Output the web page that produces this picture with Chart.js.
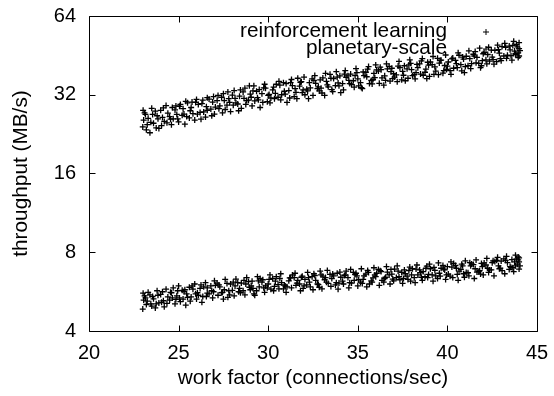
<!DOCTYPE html>
<html>
<head>
<meta charset="utf-8">
<script src="https://cdn.jsdelivr.net/npm/chart.js@4"></script>
<style>
  html, body { margin: 0; padding: 0; background: #fff; }
  canvas { display: block; }
</style>
</head>
<body>
<canvas id="chart" width="554" height="396"></canvas>
<script>
// series names (legend order)
const seriesNames = ['reinforcement learning', 'planetary-scale'];

// upper band: [work factor, throughput]
const rlPoints = [
  [23.0, 24.1], [23.1, 27.3], [23.2, 23.5], [23.3, 26.0], [23.5, 28.4], [23.6, 24.9], [23.8, 26.6], [23.9, 23.8],
  [24.0, 27.9], [24.2, 25.3], [24.3, 29.1], [24.5, 26.4], [24.6, 24.6], [24.8, 28.0], [24.9, 26.9],
  [25.0, 25.2], [25.1, 29.4], [25.3, 27.0], [25.4, 30.2], [25.6, 26.1], [25.7, 28.6], [25.9, 25.6],
  [26.0, 30.7], [26.2, 27.4], [26.3, 29.6], [26.5, 26.3], [26.6, 31.2], [26.8, 28.2], [26.9, 30.0],
  [27.0, 27.0], [27.2, 31.8], [27.3, 29.0], [27.5, 32.3], [27.6, 28.1], [27.8, 30.9], [27.9, 27.6],
  [28.1, 33.2], [28.2, 29.8], [28.4, 31.6], [28.5, 28.4], [28.7, 33.9], [28.8, 30.4], [29.0, 32.2],
  [29.1, 29.0], [29.2, 34.6], [29.4, 31.2], [29.5, 33.5], [29.7, 29.9], [29.8, 35.1], [30.0, 31.8],
  [30.1, 29.8], [30.3, 34.2], [30.4, 32.4], [30.6, 36.0], [30.7, 30.6], [30.9, 33.0], [31.0, 35.3],
  [31.2, 31.1], [31.3, 36.6], [31.5, 33.8], [31.6, 30.9], [31.8, 35.7], [31.9, 32.6], [32.0, 37.4],
  [32.2, 33.1], [32.3, 35.6], [32.5, 31.8], [32.6, 37.9], [32.8, 34.3], [32.9, 36.5], [33.0, 32.5],
  [33.2, 38.6], [33.3, 34.9], [33.5, 37.0], [33.6, 32.9], [33.8, 39.2], [33.9, 35.5], [34.0, 37.8],
  [34.2, 33.4], [34.3, 39.6], [34.5, 36.3], [34.6, 38.4], [34.8, 34.2], [34.9, 40.3], [35.0, 36.8],
  [35.2, 34.1], [35.3, 39.1], [35.5, 37.5], [35.6, 41.0], [35.8, 35.2], [35.9, 38.6], [36.0, 41.6],
  [36.2, 35.4], [36.3, 39.9], [36.5, 37.8], [36.6, 42.0], [36.8, 36.1], [36.9, 40.4], [37.0, 38.5],
  [37.2, 35.9], [37.3, 42.9], [37.5, 39.3], [37.6, 41.3], [37.8, 37.0], [37.9, 43.5], [38.0, 39.9],
  [38.2, 36.8], [38.3, 41.8], [38.5, 38.4], [38.6, 44.0], [38.8, 40.1], [38.9, 42.6], [39.0, 37.6],
  [39.2, 44.8], [39.3, 40.9], [39.5, 38.2], [39.6, 43.3], [39.8, 39.6], [39.9, 45.4], [40.0, 41.2],
  [40.2, 38.3], [40.3, 44.2], [40.5, 42.1], [40.6, 46.3], [40.8, 39.5], [40.9, 43.8], [41.0, 41.0],
  [41.2, 47.1], [41.3, 40.3], [41.5, 45.0], [41.6, 42.4], [41.8, 48.2], [41.9, 41.3], [42.0, 45.9],
  [42.2, 42.0], [42.3, 48.6], [42.5, 44.6], [42.6, 41.9], [42.8, 49.5], [42.9, 46.2], [43.0, 43.2],
  [43.2, 50.3], [43.3, 44.1], [43.5, 47.5], [43.6, 43.4], [43.7, 51.2], [43.8, 46.0], [43.9, 48.8], [44.0, 45.0], [44.0, 50.6],
  [23.05, 25.6], [23.4, 22.9], [23.7, 27.7], [24.05, 24.4], [24.4, 27.2], [24.7, 25.9], [25.05, 28.9], [25.35, 24.7],
  [25.65, 27.8], [25.95, 29.9], [26.25, 25.8], [26.55, 28.8], [26.85, 26.6], [27.15, 30.4], [27.45, 27.3], [27.75, 32.8],
  [28.05, 29.2], [28.35, 27.8], [28.65, 31.0], [28.95, 34.6], [29.25, 30.3], [29.55, 28.6], [29.85, 33.9], [30.15, 31.1],
  [30.45, 35.1], [30.75, 32.0], [31.05, 29.9], [31.35, 34.7], [31.65, 37.0], [31.95, 33.4], [32.25, 30.9], [32.55, 36.3],
  [32.85, 33.1], [33.15, 31.8], [33.45, 38.3], [33.75, 34.7], [34.05, 32.6], [34.35, 37.3], [34.65, 35.0], [34.95, 38.9],
  [35.25, 33.8], [35.55, 40.1], [35.85, 36.6], [36.15, 39.4], [36.45, 34.8], [36.75, 41.1], [37.05, 37.4], [37.35, 40.6],
  [37.65, 36.2], [37.95, 42.2], [38.25, 38.9], [38.55, 43.1], [38.85, 36.9], [39.15, 41.7], [39.45, 44.1], [39.75, 38.7],
  [40.05, 42.7], [40.35, 40.4], [40.65, 45.3], [40.95, 38.9], [41.25, 44.0], [41.55, 46.8], [41.85, 40.6], [42.15, 43.5],
  [42.45, 47.4], [42.75, 42.8], [43.05, 48.9], [43.35, 45.3], [43.65, 49.4], [43.95, 44.4], [44.05, 47.2],
  [23.15, 26.9], [23.45, 25.1], [23.85, 25.9], [24.15, 28.5], [24.55, 25.8], [24.85, 29.0], [25.2, 26.7], [25.5, 29.8],
  [25.8, 27.1], [26.1, 29.4], [26.4, 27.5], [26.7, 30.8], [27.05, 28.7], [27.4, 31.3], [27.7, 29.2], [28.0, 31.9],
  [28.3, 29.5], [28.6, 32.8], [28.9, 30.5], [29.15, 33.1], [29.45, 30.6], [29.75, 34.0], [30.05, 32.1], [30.35, 30.9],
  [30.65, 34.8], [30.95, 32.2], [31.25, 35.6], [31.55, 32.7], [31.85, 35.9], [32.15, 33.6], [32.45, 36.8], [32.75, 33.8],
  [33.05, 37.1], [33.35, 34.3], [33.65, 36.9], [33.95, 34.6], [34.25, 38.4], [34.55, 35.3], [34.85, 37.9], [35.15, 35.6],
  [35.45, 39.0], [35.75, 36.3], [36.05, 39.8], [36.35, 37.1], [36.65, 40.2], [36.95, 36.9], [37.25, 41.2], [37.55, 38.0],
  [37.85, 41.6], [38.15, 38.2], [38.45, 42.0], [38.75, 39.0], [39.05, 42.7], [39.35, 39.4], [39.65, 43.4], [39.95, 40.0],
  [40.25, 43.9], [40.55, 40.6], [40.85, 44.6], [41.15, 41.3], [41.45, 45.7], [41.75, 42.2], [42.05, 46.5], [42.35, 43.0],
  [42.65, 47.3], [42.95, 44.0], [43.25, 48.6], [43.55, 45.1], [43.85, 49.8], [43.8, 45.6], [44.0, 48.0],
  [23.02, 27.9], [23.25, 24.6], [23.55, 26.9], [23.75, 23.9], [24.1, 26.2], [24.35, 25.0], [24.65, 28.6], [24.95, 25.9],
  [25.25, 28.3], [25.45, 26.4], [25.75, 30.0], [26.05, 27.0], [26.35, 30.5], [26.6, 27.9], [26.95, 31.5], [27.25, 28.3],
  [27.55, 30.4], [27.85, 29.9], [28.15, 31.0], [28.45, 33.4], [28.75, 29.4], [29.05, 31.3], [29.35, 33.0], [29.65, 32.3],
  [29.95, 30.1], [30.25, 33.4], [30.55, 31.3], [30.85, 35.6], [31.15, 33.2], [31.45, 31.5], [31.75, 34.5], [32.05, 32.0],
  [32.35, 34.0], [32.65, 35.4], [32.95, 33.9], [33.25, 36.0], [33.55, 33.5], [33.85, 37.4], [34.15, 35.3], [34.45, 37.8],
  [34.75, 36.2], [35.05, 34.6], [35.35, 37.9], [35.65, 35.3], [35.95, 37.2], [36.25, 40.8], [36.55, 36.3], [36.85, 39.2],
  [37.15, 38.1], [37.45, 36.5], [37.75, 40.2], [38.05, 37.9], [38.35, 40.6], [38.65, 38.0], [38.95, 41.5], [39.25, 38.3],
  [39.55, 42.3], [39.85, 41.4], [40.15, 39.6], [40.45, 43.3], [40.75, 41.7], [41.05, 44.9], [41.35, 42.1], [41.65, 44.5],
  [41.95, 43.2], [42.25, 45.6], [42.55, 43.6], [42.85, 47.6], [43.15, 45.0], [43.45, 49.1], [43.75, 47.0], [43.95, 46.3]
];

// lower band: [work factor, throughput]
const psPoints = [
  [23.0, 4.85], [23.1, 5.45], [23.2, 5.05], [23.3, 5.62], [23.5, 4.98], [23.6, 5.31], [23.8, 5.70], [23.9, 5.12],
  [24.0, 5.52], [24.2, 4.95], [24.3, 5.78], [24.5, 5.25], [24.6, 5.60], [24.8, 5.08], [24.9, 5.45],
  [25.0, 5.95], [25.1, 5.18], [25.3, 5.66], [25.4, 5.02], [25.6, 5.88], [25.7, 5.40], [25.9, 6.05],
  [26.0, 5.30], [26.2, 5.82], [26.3, 5.15], [26.5, 6.12], [26.6, 5.58], [26.8, 5.95], [26.9, 5.35],
  [27.0, 6.22], [27.2, 5.48], [27.3, 5.90], [27.5, 5.30], [27.6, 6.30], [27.8, 5.70], [27.9, 6.05],
  [28.1, 5.45], [28.2, 6.32], [28.4, 5.82], [28.5, 6.10], [28.7, 5.50], [28.8, 6.40], [29.0, 5.75],
  [29.1, 6.20], [29.2, 5.55], [29.4, 6.45], [29.5, 5.90], [29.7, 6.28], [29.8, 5.62], [30.0, 6.05],
  [30.1, 6.55], [30.3, 5.70], [30.4, 6.20], [30.6, 5.80], [30.7, 6.62], [30.9, 6.00], [31.0, 5.62],
  [31.2, 6.38], [31.3, 5.85], [31.5, 6.65], [31.6, 6.10], [31.8, 5.70], [31.9, 6.48], [32.0, 5.95],
  [32.2, 6.70], [32.3, 6.15], [32.5, 5.75], [32.6, 6.52], [32.8, 6.02], [32.9, 6.78], [33.0, 5.80],
  [33.2, 6.40], [33.3, 6.82], [33.5, 5.92], [33.6, 6.60], [33.8, 6.12], [33.9, 5.78], [34.0, 6.72],
  [34.2, 6.05], [34.3, 6.55], [34.5, 5.85], [34.6, 6.88], [34.8, 6.25], [34.9, 6.65], [35.0, 5.95],
  [35.2, 6.92], [35.3, 6.30], [35.5, 5.90], [35.6, 6.70], [35.8, 6.15], [35.9, 6.98], [36.0, 6.45],
  [36.2, 5.98], [36.3, 6.75], [36.5, 6.35], [36.6, 7.05], [36.8, 6.05], [36.9, 6.60], [37.0, 6.22],
  [37.2, 7.10], [37.3, 6.45], [37.5, 6.08], [37.6, 6.85], [37.8, 6.30], [37.9, 7.02], [38.0, 6.55],
  [38.2, 6.12], [38.3, 7.15], [38.5, 6.68], [38.6, 6.25], [38.8, 6.95], [38.9, 6.40], [39.0, 7.20],
  [39.2, 6.20], [39.3, 6.82], [39.5, 7.28], [39.6, 6.48], [39.8, 6.90], [39.9, 6.30], [40.0, 7.05],
  [40.2, 7.35], [40.3, 6.40], [40.5, 6.95], [40.6, 6.25], [40.8, 7.20], [40.9, 6.62], [41.0, 7.42],
  [41.2, 6.50], [41.3, 7.10], [41.5, 6.35], [41.6, 7.48], [41.8, 6.80], [41.9, 7.25], [42.0, 6.55],
  [42.2, 7.58], [42.3, 6.70], [42.5, 7.30], [42.6, 6.50], [42.8, 7.65], [42.9, 6.92], [43.0, 7.40],
  [43.2, 6.62], [43.3, 7.72], [43.5, 7.05], [43.6, 7.50], [43.7, 6.75], [43.8, 7.80], [43.9, 7.20], [44.0, 6.90], [44.0, 7.62],
  [23.05, 5.25], [23.4, 5.50], [23.7, 4.90], [24.05, 5.15], [24.4, 5.40], [24.7, 5.85], [25.05, 5.35], [25.35, 5.75],
  [25.65, 5.20], [25.95, 5.55], [26.25, 6.00], [26.55, 5.42], [26.85, 5.70], [27.15, 6.10], [27.45, 5.62], [27.75, 5.38],
  [28.05, 6.15], [28.35, 5.65], [28.65, 6.25], [28.95, 5.88], [29.25, 5.48], [29.55, 6.35], [29.85, 5.95], [30.15, 5.78],
  [30.45, 6.45], [30.75, 6.12], [31.05, 5.90], [31.35, 6.55], [31.65, 6.25], [31.95, 5.82], [32.25, 6.40], [32.55, 6.62],
  [32.85, 5.88], [33.15, 6.28], [33.45, 6.58], [33.75, 6.00], [34.05, 6.42], [34.35, 6.78], [34.65, 6.10], [34.95, 6.50],
  [35.25, 6.08], [35.55, 6.82], [35.85, 6.38], [36.15, 6.88], [36.45, 6.15], [36.75, 6.55], [37.05, 6.90], [37.35, 6.28],
  [37.65, 6.62], [37.95, 6.20], [38.25, 6.90], [38.55, 6.42], [38.85, 7.08], [39.15, 6.55], [39.45, 6.35], [39.75, 7.12],
  [40.05, 6.60], [40.35, 7.25], [40.65, 6.78], [40.95, 6.42], [41.25, 7.30], [41.55, 6.92], [41.85, 6.60], [42.15, 7.15],
  [42.45, 6.85], [42.75, 7.45], [43.05, 6.80], [43.35, 7.30], [43.65, 6.98], [43.95, 7.48], [44.05, 7.10],
  [23.15, 5.35], [23.45, 5.08], [23.85, 5.48], [24.15, 5.22], [24.55, 5.62], [24.85, 5.28], [25.2, 5.72], [25.5, 5.38],
  [25.8, 5.78], [26.1, 5.48], [26.4, 5.90], [26.7, 5.55], [27.05, 5.98], [27.4, 5.60], [27.7, 6.08], [28.0, 5.72],
  [28.3, 6.12], [28.6, 5.70], [28.9, 6.18], [29.15, 5.82], [29.45, 6.22], [29.75, 5.85], [30.05, 6.30], [30.35, 5.92],
  [30.65, 6.35], [30.95, 5.95], [31.25, 6.38], [31.55, 5.98], [31.85, 6.42], [32.15, 6.00], [32.45, 6.45], [32.75, 6.05],
  [33.05, 6.48], [33.35, 6.08], [33.65, 6.50], [33.95, 6.10], [34.25, 6.52], [34.55, 6.12], [34.85, 6.58], [35.15, 6.15],
  [35.45, 6.60], [35.75, 6.22], [36.05, 6.65], [36.35, 6.25], [36.65, 6.72], [36.95, 6.32], [37.25, 6.78], [37.55, 6.35],
  [37.85, 6.80], [38.15, 6.40], [38.45, 6.85], [38.75, 6.45], [39.05, 6.92], [39.35, 6.50], [39.65, 6.95], [39.95, 6.55],
  [40.25, 7.02], [40.55, 6.58], [40.85, 7.10], [41.15, 6.68], [41.45, 7.18], [41.75, 6.75], [42.05, 7.28], [42.35, 6.85],
  [42.65, 7.38], [42.95, 6.95], [43.25, 7.45], [43.55, 7.00], [43.85, 7.55], [43.8, 7.10], [44.0, 7.35],
  [23.02, 5.58], [23.25, 5.20], [23.55, 5.42], [23.75, 5.08], [24.1, 5.65], [24.35, 5.10], [24.65, 5.35], [24.95, 5.70],
  [25.25, 5.30], [25.45, 5.55], [25.75, 5.95], [26.05, 5.60], [26.35, 5.42], [26.6, 5.85], [26.95, 5.65], [27.25, 6.00],
  [27.55, 5.75], [27.85, 5.50], [28.15, 5.95], [28.45, 5.60], [28.75, 6.05], [29.05, 5.95], [29.35, 5.70], [29.65, 6.15],
  [29.95, 5.85], [30.25, 6.35], [30.55, 6.02], [30.85, 5.80], [31.15, 6.22], [31.45, 6.40], [31.75, 6.05], [32.05, 6.30],
  [32.35, 5.90], [32.65, 6.25], [32.95, 6.55], [33.25, 6.15], [33.55, 6.35], [33.85, 6.65], [34.15, 6.20], [34.45, 6.40],
  [34.75, 6.70], [35.05, 6.28], [35.35, 6.50], [35.65, 6.05], [35.95, 6.55], [36.25, 6.80], [36.55, 6.42], [36.85, 6.88],
  [37.15, 6.40], [37.45, 6.70], [37.75, 6.48], [38.05, 6.92], [38.35, 6.55], [38.65, 6.75], [38.95, 6.58], [39.25, 7.00],
  [39.55, 6.65], [39.85, 6.85], [40.15, 6.48], [40.45, 7.12], [40.75, 6.88], [41.05, 6.70], [41.35, 7.22], [41.65, 6.72],
  [41.95, 7.05], [42.25, 6.95], [42.55, 7.42], [42.85, 7.10], [43.15, 7.55], [43.45, 6.88], [43.75, 7.35], [43.95, 7.68]
];

// axis ticks
const xTicks = [20, 25, 30, 35, 40, 45];
const yTicks = [4, 8, 16, 32, 64];
const xTitle = 'work factor (connections/sec)';
const yTitle = 'throughput (MB/s)';

const FONT = '"Liberation Sans", Arial, Helvetica, sans-serif';
Chart.defaults.font.family = FONT;
Chart.defaults.font.size = 20;
Chart.defaults.color = '#000';

// gnuplot-like key + titles (under the points) and frame with inward ticks (on top)
const gnuplotFrame = {
    id: 'gnuplotFrame',
    beforeDatasetsDraw(chart) {
        const ctx = chart.ctx;
        const a = chart.chartArea;
        ctx.save();
        ctx.fillStyle = '#000';
        ctx.strokeStyle = '#000';
        ctx.font = '20.8px ' + FONT;
        ctx.textAlign = 'center';
        ctx.textBaseline = 'middle';
        ctx.fillText(xTitle, (a.left + a.right) / 2, 378);
        ctx.save();
        ctx.translate(21, (a.top + a.bottom) / 2);
        ctx.rotate(-Math.PI / 2);
        ctx.fillText(yTitle, 0, 0);
        ctx.restore();

        // key: text right-aligned, marker to the right
        ctx.textAlign = 'right';
        const keyY = [31, 48];
        chart.data.datasets.forEach((ds, i) => {
            ctx.fillText(ds.label, 447, keyY[i]);
            Chart.helpers.drawPoint(ctx, {
                pointStyle: ds.pointStyle,
                radius: ds.pointRadius,
                borderWidth: ds.borderWidth,
            }, 486, keyY[i] + 1);
        });
        ctx.restore();
    },
    afterDraw(chart) {
        const ctx = chart.ctx;
        const a = chart.chartArea;
        const xs = chart.scales.x, ys = chart.scales.y;
        const L = Math.round(a.left) + 0.5, R = Math.round(a.right) + 0.5;
        const T = Math.round(a.top) + 0.5, B = Math.round(a.bottom) + 0.5;
        const tick = 6;
        ctx.save();
        ctx.strokeStyle = '#000';
        ctx.lineWidth = 1;
        ctx.beginPath();
        ctx.rect(L, T, R - L, B - T);
        xTicks.forEach((v) => {
            const px = Math.round(xs.getPixelForValue(v)) + 0.5;
            ctx.moveTo(px, B); ctx.lineTo(px, B - tick);
            ctx.moveTo(px, T); ctx.lineTo(px, T + tick);
        });
        yTicks.forEach((v) => {
            const py = Math.round(ys.getPixelForValue(v)) + 0.5;
            ctx.moveTo(L, py); ctx.lineTo(L + tick, py);
            ctx.moveTo(R, py); ctx.lineTo(R - tick, py);
        });
        ctx.stroke();
        ctx.restore();
    }
};

const ctx = document.getElementById('chart').getContext('2d');
new Chart(ctx, {
    type: 'scatter',
    data: {
        datasets: [
            {
                label: seriesNames[0],
                data: rlPoints.map((p) => ({ x: p[0], y: p[1] })),
                pointStyle: 'cross',
                pointRadius: 3,
                borderWidth: 1.3,
                borderColor: '#000',
                backgroundColor: '#000',
            },
            {
                label: seriesNames[1],
                data: psPoints.map((p) => ({ x: p[0], y: p[1] })),
                pointStyle: 'cross',
                pointRadius: 3,
                borderWidth: 1.3,
                borderColor: '#000',
                backgroundColor: '#000',
            },
        ],
    },
    options: {
        responsive: false,
        animation: false,
        devicePixelRatio: 1,
        layout: { padding: { left: 0, top: 16, right: 17, bottom: 0 } },
        plugins: {
            legend: { display: false },
            tooltip: { enabled: false },
        },
        scales: {
            x: {
                type: 'linear',
                min: 20,
                max: 45,
                grid: { display: false, drawTicks: false },
                border: { display: false },
                afterBuildTicks: (scale) => { scale.ticks = xTicks.map((v) => ({ value: v })); },
                afterFit: (scale) => {
                    scale.height = 65;
                    scale.paddingLeft = 0;
                    scale.paddingRight = 0;
                },
                ticks: { padding: 10, maxRotation: 0, callback: (v) => String(v) },
            },
            y: {
                type: 'logarithmic',
                min: 4,
                max: 64,
                grid: { display: false, drawTicks: false },
                border: { display: false },
                afterBuildTicks: (scale) => { scale.ticks = yTicks.map((v) => ({ value: v })); },
                afterFit: (scale) => {
                    scale.width = 89;
                    scale.paddingTop = 0;
                    scale.paddingBottom = 0;
                },
                ticks: { padding: 13, callback: (v) => String(v) },
            },
        },
    },
    plugins: [gnuplotFrame],
});
</script>
</body>
</html>
